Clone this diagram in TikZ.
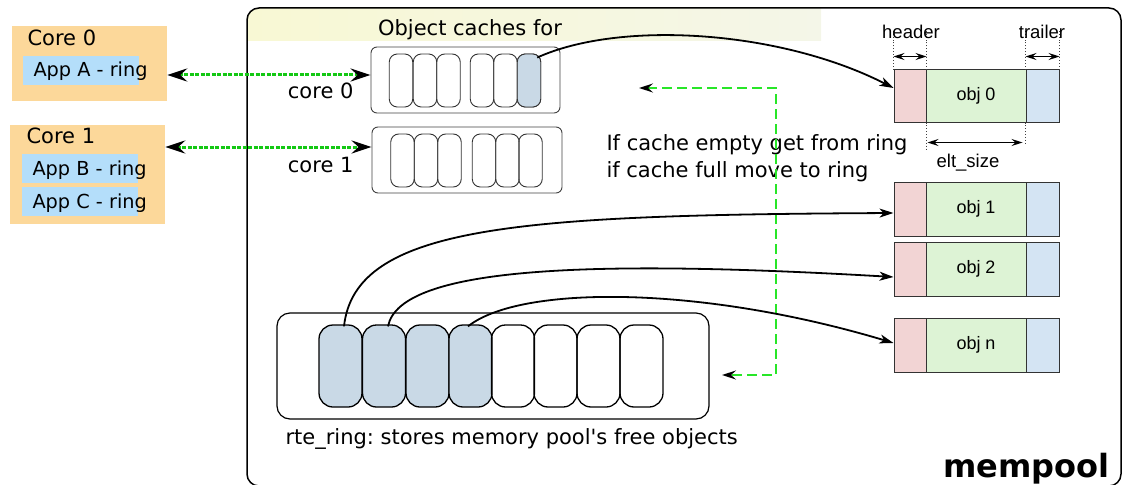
\documentclass[tikz,border=0pt]{standalone}
\usepackage{fontspec}
\setmainfont{DejaVu Sans}
\newfontfamily\arialf{Liberation Sans}
\usetikzlibrary{arrows.meta,calc}
\definecolor{coreor}{RGB}{252,216,154}
\definecolor{appbl}{RGB}{180,222,250}
\definecolor{hpink}{RGB}{242,212,212}
\definecolor{bgreen}{RGB}{221,243,213}
\definecolor{tblue}{RGB}{212,228,243}
\definecolor{cellfill}{RGB}{201,217,230}
\definecolor{gdot}{RGB}{20,200,20}
\definecolor{gdash}{RGB}{40,230,40}
\definecolor{bandL}{RGB}{248,248,212}
\definecolor{bandR}{RGB}{244,246,232}
\tikzset{
  mainfont/.style={font=\fontsize{21}{24}\selectfont},
  appfont/.style={font=\fontsize{19.3}{22}\selectfont},
  smallfont/.style={font=\arialf\fontsize{18.5}{21}\selectfont},
  corebox/.style={fill=coreor, draw=none, inner sep=0, minimum width=155},
  appbox/.style={fill=appbl, draw=none, inner sep=0, minimum width=116, minimum height=29},
  cachebox/.style={draw=black!75, line width=0.9, rounded corners=6, inner sep=0, minimum width=189, minimum height=66},
  cachecell/.style={draw=black!80, line width=0.9, rounded corners=8, inner sep=0, minimum width=23.5, minimum height=53},
  ringbox/.style={draw=black, line width=1.2, rounded corners=13, inner sep=0, minimum width=432, minimum height=106},
  ringcell/.style={draw=black, line width=1.3, rounded corners=14, inner sep=0, minimum width=43, minimum height=82},
  objpart/.style={draw=black!80, line width=1, inner sep=0, minimum height=54},
  objarrow/.style={line width=1.8, -{Stealth[length=14pt,width=9pt,inset=4pt]}},
  gdotarrow/.style={gdot, line width=3, dash pattern=on 4pt off 1.5pt,
     {Stealth[length=20pt,width=13pt,inset=7pt,color=black]}-{Stealth[length=20pt,width=13pt,inset=7pt,color=black]}},
  gdasharrow/.style={gdash, line width=1.6, dash pattern=on 10pt off 5pt,
     {Stealth[length=14pt,width=9pt,inset=5pt,color=black]}-{Stealth[length=14pt,width=9pt,inset=5pt,color=black]}},
  dimarrow/.style={line width=1.1, {Stealth[length=11pt,width=7pt,inset=4pt]}-{Stealth[length=11pt,width=7pt,inset=4pt]}},
  dimline/.style={dotted, line width=0.9, black!75},
}
\begin{document}
\frenchspacing
\begin{tikzpicture}[x=1pt,y=-1pt]
\useasboundingbox (0,0) rectangle (1123,484);
% main mempool frame with header band
\begin{scope}
  \clip[rounded corners=12] (247,8) rectangle (1121,486);
  \fill[left color=bandL, right color=bandR] (247,8) rectangle (821,41);
\end{scope}
\node[draw=black, line width=1.5, rounded corners=12, inner sep=0, minimum width=874, minimum height=478] (pool) at (684,247) {};
\node[mainfont, anchor=base] (octitle) at (470,35.5) {Object caches for};
\node[font=\bfseries\fontsize{32}{36}\selectfont, anchor=base east] (mplabel) at (1113,477) {mempool};

% cores
\node[corebox, minimum height=75] (core0) at (89.5,64) {};
\node[corebox, minimum height=99] (core1) at (87.5,174.5) {};
\node[mainfont, anchor=base west] (core0t) at (24,46) {Core 0};
\node[mainfont, anchor=base west] (core1t) at (23,143) {Core 1};
\node[appbox] (appA) at (81,70.5) {};
\node[appbox] (appB) at (80,168.5) {};
\node[appbox] (appC) at (80,201.5) {};
\node[appfont, anchor=base west] (appAt) at (30,77) {App A - ring};
\node[appfont, anchor=base west] (appBt) at (29,175) {App B - ring};
\node[appfont, anchor=base west] (appCt) at (29,208) {App C - ring};

% caches
\node[cachebox] (cache0) at (465.5,80) {};
\node[cachebox, minimum width=190] (cache1) at (467,160) {};
\foreach \x [count=\i] in {401,425,448.5,482,505.5,529}
  \node[cachecell] (c\i) at (\x,80.5) {};
\node[cachecell, fill=cellfill] (c6) at (529,80.5) {};
\foreach \x [count=\i] in {402.5,426,449.5,484,507.5,530.5}
  \node[cachecell] (d\i) at (\x,160.5) {};
\node[mainfont, anchor=base east] (lc0) at (357,99) {core 0};
\node[mainfont, anchor=base east] (lc1) at (357,172) {core 1};

% ring
\node[ringbox] (ring) at (493,366) {};
\foreach \x [count=\i] in {340.5,384,427.5,470.5}
  \node[ringcell, fill=cellfill] (r\i) at (\x,366) {};
\foreach \x [count=\i from 5] in {513,555.5,598.5,641.5}
  \node[ringcell] (r\i) at (\x,366) {};
\node[mainfont, anchor=base west] (ringlbl) at (282,444) {rte\_ring: stores memory pool\textquotesingle s free objects};

% objects
\foreach \n/\y/\h/\lbl in {0/96/52/obj 0, 1/209/54/obj 1, 2/269/54/obj 2, n/345/54/obj n}{
  \node[objpart, fill=hpink, minimum width=32, minimum height=\h] (o\n h) at (910,\y) {};
  \node[objpart, fill=bgreen, minimum width=100, minimum height=\h, font=\arialf\fontsize{18}{20}\selectfont] (o\n b) at (976,\y) {\lbl};
  \node[objpart, fill=tblue, minimum width=33, minimum height=\h] (o\n t) at (1042.5,\y) {};
}
% dimensions of obj 0
\draw[dimline] (o0h.north west) -- ++(0,-40);
\draw[dimline] (o0h.north east) -- ++(0,-40);
\draw[dimline] (o0h.south east) -- ++(0,28);
\draw[dimline] (o0t.north west) -- ++(0,-40);
\draw[dimline] (o0t.south west) -- ++(0,21);
\draw[dimline] (o0t.north east) -- ++(0,-40);
\draw[dimarrow] ($(o0h.north west)+(0,-13)$) -- ($(o0h.north east)+(0,-13)$);
\draw[dimarrow] ($(o0t.north west)+(0,-13)$) -- ($(o0t.north east)+(0,-13)$);
\draw[dimarrow] ($(o0b.south west)+(2,20)$) -- ($(o0b.south east)+(-4,20)$);
\node[smallfont, anchor=base] (hdr) at (911,39) {header};
\node[smallfont, anchor=base] (trl) at (1042,39) {trailer};
\node[smallfont, anchor=base] (elt) at (968,167) {elt\_size};

% explanation text
\node[mainfont, anchor=base west] (expl1) at (603,150) {If cache empty get from ring};
\node[mainfont, anchor=base west] (expl2) at (603,177) {if cache full move to ring};

% connectors
\draw[gdotarrow] (core0.east |- 0,75) -- (cache0.west |- 0,75);
\draw[gdotarrow] (core1.east |- 0,147) -- (cache1.west |- 0,147);
\coordinate (gA) at (639,88);
\coordinate (gB) at (722,375);
\draw[gdasharrow] (gA) -- ++(137,0) |- (gB);

\draw[objarrow] ($(c6.north east)+(-4,4)$) .. controls (620,20) and (780,30) .. ($(o0h.west)+(0,-8)$);
\draw[objarrow] ($(r1.north)+(3.5,2)$) .. controls (355,225) and (520,215) .. ($(o1h.west)+(0,4)$);
\draw[objarrow] ($(r2.north)+(4,2)$) .. controls (400,265) and (600,260) .. ($(o2h.west)+(0,8)$);
\draw[objarrow] ($(r4.north)+(-2.5,2)$) .. controls (520,285) and (700,285) .. ($(onh.west)+(0,-2)$);
\end{tikzpicture}
\end{document}
